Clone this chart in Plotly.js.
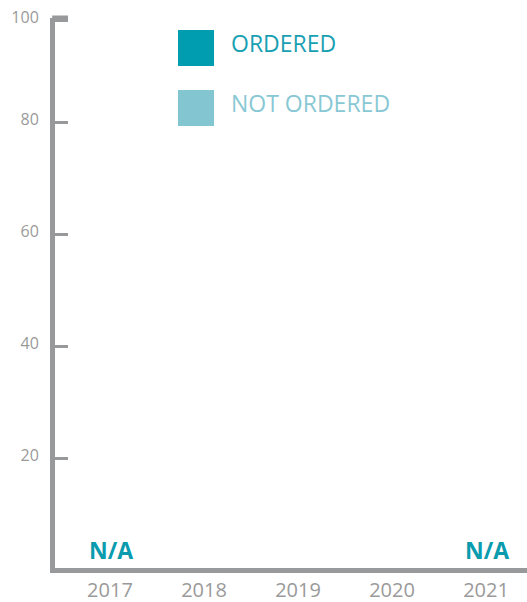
<!DOCTYPE html>
<html>
<head>
<meta charset="utf-8">
<script src="https://cdn.plot.ly/plotly-3.0.1.min.js"></script>
<style>html,body{margin:0;padding:0;background:#fff;}#chart{width:527px;height:602px;}</style>
</head>
<body>
<div id="chart"></div>
<script>
// ---- data ----
const years = ['2017', '2018', '2019', '2020', '2021'];
const ordered = [null, 0, 0, 0, null];
const notOrdered = [null, 0, 0, 0, null];
const naYears = ['2017', '2021'];
const naLabel = 'N/A';
const seriesNames = ['ORDERED', 'NOT ORDERED'];
const yTickVals = [20, 40, 60, 80, 98.2];
const yTickText = ['20', '40', '60', '80', '100'];

// ---- styles ----
const cOrdered = '#009cb0';
const cNot = '#84c5d2';
const gray = '#98999b';
const labelGray = '#9a9a9a';
const font = 'Open Sans, sans-serif';

const traces = [
  {type: 'bar', x: years, y: ordered, name: seriesNames[0], marker: {color: cOrdered}, showlegend: false, hoverinfo: 'skip'},
  {type: 'bar', x: years, y: notOrdered, name: seriesNames[1], marker: {color: cNot}, showlegend: false, hoverinfo: 'skip'}
];

const annotations = naYears.map(yr => ({
  x: years.indexOf(yr), y: 0, xref: 'x', yref: 'paper', text: '<b>' + naLabel + '</b>', showarrow: false,
  yanchor: 'bottom', yshift: 0, xshift: 1, font: {family: font, size: 23, color: '#0a9bae'}
}));

// legend drawn with shapes + annotations
const legendColors = [cOrdered, cNot];
const legendTextColors = ['#17a0b2', '#88c8d4'];
const legendRows = [[0.978, 0.9127], [0.869, 0.8036]];
const shapes = [];
seriesNames.forEach((n, i) => {
  shapes.push({type: 'rect', xref: 'paper', yref: 'paper', x0: 0.2606, x1: 0.3369,
    y0: legendRows[i][1], y1: legendRows[i][0], fillcolor: legendColors[i], line: {width: 0}});
  annotations.push({xref: 'paper', yref: 'paper', x: 0.369, y: (legendRows[i][0] + legendRows[i][1]) / 2,
    xanchor: 'left', yanchor: 'middle', yshift: 5, text: n, showarrow: false,
    font: {family: font, size: 23, color: legendTextColors[i]}});
});
// top cap of y axis
shapes.push({type: 'line', xref: 'paper', yref: 'paper', x0: -0.006, x1: 13 / 472, y0: 1, y1: 1,
  line: {color: gray, width: 5}});

const layout = {
  width: 527, height: 602,
  margin: {l: 55, r: 0, t: 18, b: 34},
  paper_bgcolor: '#fff', plot_bgcolor: '#fff',
  barmode: 'stack',
  showlegend: false,
  font: {family: font},
  xaxis: {
    type: 'category', range: [-0.585, 4.436],
    showline: true, linecolor: gray, linewidth: 5,
    showgrid: false, zeroline: false, ticks: '',
    tickfont: {family: font, size: 20, color: labelGray}
  },
  yaxis: {
    range: [0.5, 98.7],
    showline: true, linecolor: gray, linewidth: 5,
    showgrid: false, zeroline: false,
    ticks: 'inside', ticklen: 13, tickwidth: 3, tickcolor: gray,
    tickvals: yTickVals, ticktext: yTickText,
    ticklabelstandoff: 8, ticklabelshift: -3,
    tickfont: {family: font, size: 16, color: labelGray}
  },
  shapes: shapes,
  annotations: annotations
};

Plotly.newPlot('chart', traces, layout, {displayModeBar: false, staticPlot: true});
</script>
</body>
</html>
